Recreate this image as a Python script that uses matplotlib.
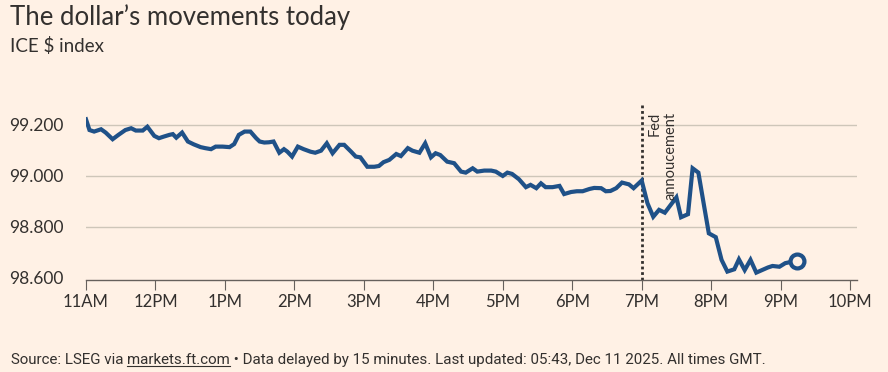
import matplotlib
matplotlib.use("Agg")
import numpy as np
from matplotlib import pyplot as plt

# ICE $ index (times GMT)
times = ["11:00", "11:03", "11:07", "11:13", "11:17", "11:23", "11:28", "11:34", "11:39", "11:43",
         "11:49", "11:53", "11:59", "12:03", "12:07", "12:12", "12:15", "12:18", "12:23", "12:28",
         "12:33", "12:39", "12:43", "12:48", "12:52", "12:58", "13:04", "13:08", "13:12", "13:17",
         "13:22", "13:27", "13:30", "13:34", "13:38", "13:42", "13:47", "13:51", "13:54", "13:58",
         "14:03", "14:08", "14:14", "14:18", "14:23", "14:28", "14:33", "14:39", "14:43", "14:49",
         "14:53", "14:57", "15:03", "15:09", "15:13", "15:17", "15:22", "15:28", "15:32", "15:38",
         "15:42", "15:48", "15:53", "15:58", "16:02", "16:06", "16:12", "16:18", "16:24", "16:28",
         "16:34", "16:38", "16:44", "16:50", "16:54", "17:00", "17:04", "17:08", "17:14", "17:20",
         "17:24", "17:29", "17:33", "17:37", "17:43", "17:49", "17:53", "17:59", "18:04", "18:09",
         "18:15", "18:19", "18:25", "18:29", "18:33", "18:38", "18:43", "18:49", "18:53", "19:00",
         "19:05", "19:10", "19:15", "19:20", "19:25", "19:30", "19:34", "19:40", "19:44", "19:49",
         "19:54", "19:58", "20:04", "20:09", "20:14", "20:20", "20:24", "20:29", "20:34", "20:39",
         "20:44", "20:49", "20:53", "20:59", "21:04", "21:14"]
values = [99.222, 99.180, 99.174, 99.183, 99.170, 99.144, 99.161, 99.180, 99.187, 99.178,
          99.178, 99.193, 99.157, 99.148, 99.154, 99.161, 99.164, 99.150, 99.170, 99.135,
          99.124, 99.113, 99.109, 99.105, 99.115, 99.115, 99.113, 99.125, 99.161, 99.174,
          99.174, 99.148, 99.135, 99.131, 99.132, 99.135, 99.091, 99.105, 99.095, 99.076,
          99.115, 99.105, 99.095, 99.091, 99.099, 99.128, 99.089, 99.122, 99.122, 99.095,
          99.076, 99.073, 99.036, 99.036, 99.039, 99.054, 99.063, 99.086, 99.078, 99.109,
          99.099, 99.091, 99.128, 99.073, 99.089, 99.082, 99.056, 99.050, 99.017, 99.013,
          99.030, 99.017, 99.021, 99.021, 99.017, 99.000, 99.013, 99.008, 98.987, 98.956,
          98.965, 98.952, 98.971, 98.956, 98.956, 98.961, 98.929, 98.937, 98.940, 98.940,
          98.949, 98.953, 98.952, 98.940, 98.941, 98.952, 98.974, 98.967, 98.952, 98.982,
          98.893, 98.840, 98.867, 98.856, 98.886, 98.916, 98.838, 98.850, 99.030, 99.013,
          98.880, 98.775, 98.760, 98.671, 98.625, 98.634, 98.673, 98.631, 98.671, 98.621,
          98.631, 98.641, 98.647, 98.644, 98.658, 98.668]

hour_ticks = list(range(11, 23))
hour_labels = ["11AM", "12PM", "1PM", "2PM", "3PM", "4PM", "5PM", "6PM", "7PM", "8PM", "9PM", "10PM"]
y_ticks = [98.6, 98.8, 99.0, 99.2]
fed_time = 19.0

bg = "#FFF1E5"
ink = "#33302E"
grid_c = "#CEC6B9"
line_c = "#1F5188"

x = np.array([int(t[:2]) + int(t[3:]) / 60 for t in times])
y = np.array(values)

fig = plt.figure(figsize=(8.88, 3.72), dpi=100, facecolor=bg)
ax = fig.add_axes([86 / 888, 92 / 372, 771 / 888, 177 / 372], facecolor=bg)

ax.set_xlim(11, 22.1)
ax.set_ylim(98.592, 99.286)

for v in y_ticks[1:]:
    ax.axhline(v, color=grid_c, lw=1, zorder=1)

ax.plot(x, y, color=line_c, lw=3, solid_joinstyle="miter", zorder=3)
ax.plot(x[-1], y[-1], "o", ms=10, mfc=bg, mec=line_c, mew=3, zorder=4)

ax.axvline(fed_time, color=ink, lw=2, ls=(0, (1, 1)), zorder=2)
ax.text(fed_time + 0.08, 99.252, "Fed\nannoucement", rotation=90, ha="left", va="top",
        multialignment="right", fontsize=10.5, color=ink, family=["Lato", "DejaVu Sans"])

for s in ["top", "right", "left"]:
    ax.spines[s].set_visible(False)
ax.spines["bottom"].set_color("#66605C")
ax.spines["bottom"].set_linewidth(1)

ax.set_xticks(hour_ticks)
ax.set_xticklabels(hour_labels)
ax.set_yticks(y_ticks)
ax.set_yticklabels([f"{v:.3f}" for v in y_ticks])
ax.tick_params(axis="x", length=7, color="#66605C", labelsize=12, labelcolor=ink, pad=3)
ax.tick_params(axis="y", length=0, labelsize=12.5, labelcolor=ink, pad=16)
for lab in ax.get_xticklabels() + ax.get_yticklabels():
    lab.set_family(["Lato", "DejaVu Sans"])

fig.text(10 / 888, 1 - 17 / 372, "The dollar\u2019s movements today", fontsize=18.5, color=ink,
         va="center", ha="left", family=["Lato", "DejaVu Sans"])
fig.text(10 / 888, 1 - 46 / 372, "ICE $ index", fontsize=13.5, color=ink,
         va="center", ha="left", family=["Lato", "DejaVu Sans"])

# footer with the underlined link
foot_font = ["Roboto", "DejaVu Sans"]
parts = ["Source: LSEG via ", "markets.ft.com",
         " \u2022 Data delayed by 15 minutes. Last updated: 05:43, Dec 11 2025. All times GMT."]
fig.canvas.draw()
r = fig.canvas.get_renderer()
xpos = 11
for i, p in enumerate(parts):
    t = fig.text(xpos / 888, 1 - 364 / 372, p, fontsize=10.9, color=ink, va="baseline",
                 ha="left", family=foot_font)
    bb = t.get_window_extent(renderer=r)
    if i == 1:
        uy = (bb.y0 + 1) / 372
        fig.add_artist(plt.Line2D([bb.x0 / 888, bb.x1 / 888], [uy, uy],
                                  color=ink, lw=0.8, transform=fig.transFigure))
    xpos = bb.x1

fig.savefig("out.png", dpi=100, facecolor=bg)
